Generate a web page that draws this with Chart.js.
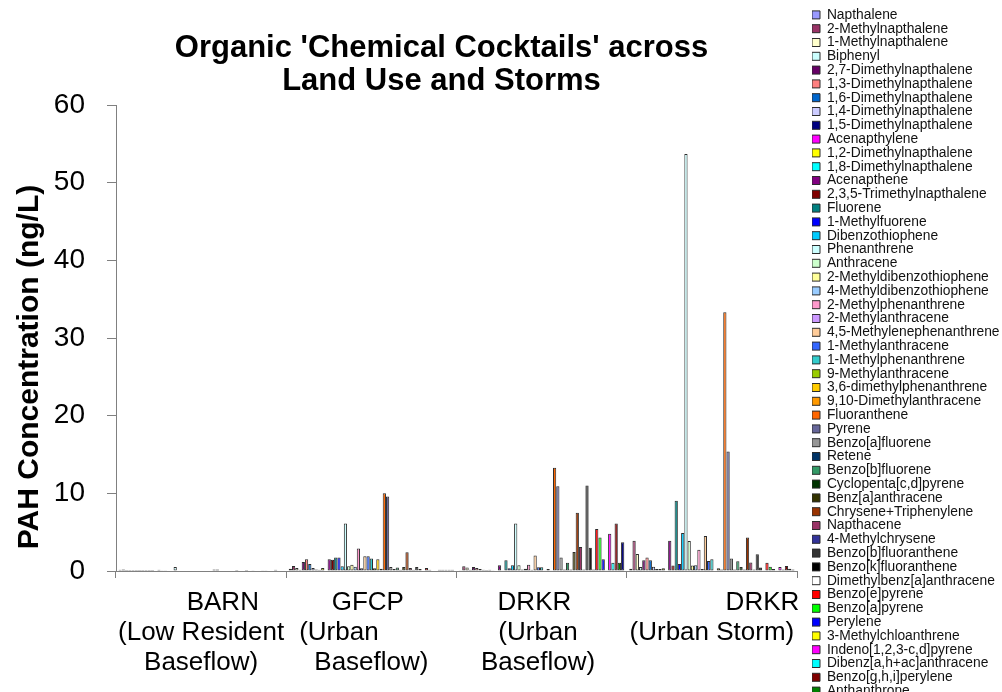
<!DOCTYPE html>
<html>
<head>
<meta charset="utf-8">
<script src="https://cdn.jsdelivr.net/npm/chart.js@4.4.1/dist/chart.umd.min.js"></script>
<style>
  html, body { margin: 0; padding: 0; background: #ffffff; overflow: hidden; }
  #wrap { width: 1002px; height: 692px; position: relative; }
</style>
</head>
<body>
<div id="wrap"><canvas id="pahChart" width="1002" height="692"></canvas></div>
<script>
// Sampling sites (multi-line category labels)
const sites = [
  ["      BARN", "(Low Resident", "Baseflow)"],
  ["GFCP ", "(Urban         ", "Baseflow)"],
  ["DRKR  ", "(Urban ", "Baseflow) "],
  ["              DRKR", "(Urban Storm)"]
];

// Compounds, in series order
const compounds = [
  "Napthalene", "2-Methylnapthalene", "1-Methylnapthalene", "Biphenyl",
  "2,7-Dimethylnapthalene", "1,3-Dimethylnapthalene", "1,6-Dimethylnapthalene",
  "1,4-Dimethylnapthalene", "1,5-Dimethylnapthalene", "Acenapthylene",
  "1,2-Dimethylnapthalene", "1,8-Dimethylnapthalene", "Acenapthene",
  "2,3,5-Trimethylnapthalene", "Fluorene", "1-Methylfuorene", "Dibenzothiophene",
  "Phenanthrene", "Anthracene", "2-Methyldibenzothiophene", "4-Methyldibenzothiophene",
  "2-Methylphenanthrene", "2-Methylanthracene", "4,5-Methylenephenanthrene",
  "1-Methylanthracene", "1-Methylphenanthrene", "9-Methylanthracene",
  "3,6-dimethylphenanthrene", "9,10-Dimethylanthracene", "Fluoranthene", "Pyrene",
  "Benzo[a]fluorene", "Retene", "Benzo[b]fluorene", "Cyclopenta[c,d]pyrene",
  "Benz[a]anthracene", "Chrysene+Triphenylene", "Napthacene", "4-Methylchrysene",
  "Benzo[b]fluoranthene", "Benzo[k]fluoranthene", "Dimethylbenz[a]anthracene",
  "Benzo[e]pyrene", "Benzo[a]pyrene", "Perylene", "3-Methylchloanthrene",
  "Indeno[1,2,3-c,d]pyrene", "Dibenz[a,h+ac]anthracene", "Benzo[g,h,i]perylene",
  "Anthanthrone", "Coronene"
];

// PAH concentrations (ng/L), one value per compound, per site
const barn = [
  0.15, 0.2, 0.12, 0.12, 0.12, 0.12, 0.12, 0.12, 0.12, 0.12,
  0.12, 0.05, 0.17, 0.1, 0.1, 0.08, 0.05, 0.5, 0.05, 0.05,
  0.05, 0.08, 0.05, 0.08, 0.08, 0.08, 0.05, 0.05, 0.05, 0.2,
  0.2, 0.05, 0.05, 0.05, 0.05, 0.08, 0.12, 0.05, 0.05, 0.12,
  0.05, 0.03, 0.05, 0.05, 0.03, 0.03, 0.05, 0.05, 0.15, 0.05,
  0.05
];
const gfcp = [
  0.3, 0.65, 0.4, 0.15, 1.15, 1.5, 0.9, 0.4, 0.2, 0.15,
  0.4, 0.05, 1.5, 1.45, 1.75, 1.75, 0.6, 6.1, 0.6, 0.8,
  0.55, 2.9, 0.35, 1.9, 1.9, 1.6, 0.35, 1.5, 0.3, 10.0,
  9.6, 0.5, 0.25, 0.45, 0.15, 0.5, 2.4, 0.4, 0.15, 0.5,
  0.25, 0.05, 0.4, 0.15, 0.05, 0.05, 0.15, 0.15, 0.15, 0.15,
  0.15
];
const drkrBaseflow = [
  0.1, 0.6, 0.45, 0.15, 0.5, 0.4, 0.25, 0.15, 0.12, 0.15,
  0.1, 0.05, 0.75, 0.1, 1.4, 0.35, 0.75, 6.1, 0.75, 0.2,
  0.3, 0.8, 0.17, 2.0, 0.47, 0.47, 0.1, 0.26, 0.1, 13.3,
  10.9, 1.75, 0.2, 1.05, 0.2, 2.45, 7.5, 3.1, 0.2, 11.0,
  3.0, 0.2, 5.4, 4.3, 1.5, 0.1, 4.8, 1.05, 6.1, 1.05,
  3.7
];
const drkrStorm = [
  0.3, 3.9, 2.2, 0.5, 1.4, 1.75, 1.4, 0.55, 0.25, 0.25,
  0.35, 0.05, 3.9, 0.7, 9.05, 0.9, 4.9, 53.7, 3.85, 0.7,
  0.75, 2.75, 0.25, 4.5, 1.3, 1.5, 0.05, 0.35, 0.2, 33.3,
  15.4, 1.6, 0.2, 1.25, 0.5, 0.2, 4.3, 1.1, 0.2, 2.15,
  0.45, 0.1, 1.05, 0.55, 0.25, 0.1, 0.5, 0.2, 0.65, 0.3,
  0.2
];

// Value axis ticks
const yTicks = [0, 10, 20, 30, 40, 50, 60];

// Series fill colours
const palette = [
  "#9999FF", "#993366", "#FFFFCC", "#CCFFFF", "#660066", "#FF8080", "#0066CC",
  "#CCCCFF", "#000080", "#FF00FF", "#FFFF00", "#00FFFF", "#800080", "#800000",
  "#008080", "#0000FF", "#00CCFF", "#CCFFFF", "#CCFFCC", "#FFFF99", "#99CCFF",
  "#FF99CC", "#CC99FF", "#FFCC99", "#3366FF", "#33CCCC", "#99CC00", "#FFCC00",
  "#FF9900", "#FF6600", "#666699", "#969696", "#003366", "#339966", "#003300",
  "#333300", "#993300", "#993366", "#333399", "#333333", "#000000", "#FFFFFF",
  "#FF0000", "#00FF00", "#0000FF", "#FFFF00", "#FF00FF", "#00FFFF", "#800000",
  "#008000", "#000080"
];

const FONT = '"Liberation Sans", Arial, Helvetica, sans-serif';
const LEGEND_ROWS = 50;

const datasets = compounds.map((name, i) => ({
  label: name,
  data: [barn[i], gfcp[i], drkrBaseflow[i], drkrStorm[i]],
  backgroundColor: palette[i],
  borderColor: "#2b2b2b",
  borderWidth: 1,
  borderSkipped: false
}));

// Places the title and the legend column after Chart.js has laid out the boxes
const boxNudge = {
  id: "boxNudge",
  afterLayout(chart, args, opts) {
    const t = chart.titleBlock;
    if (t) { t.left += opts.titleShift; t.right += opts.titleShift; }
    const lg = chart.legend;
    if (lg) {
      const dx = opts.legendLeft - lg.left;
      lg.left += dx; lg.right += dx;
      lg.top += opts.legendDrop; lg.bottom += opts.legendDrop;
    }
  }
};

// Rotated value-axis caption
const axisCaption = {
  id: "axisCaption",
  afterDraw(chart, args, opts) {
    const ctx = chart.ctx;
    ctx.save();
    ctx.translate(opts.x, opts.y);
    ctx.rotate(-Math.PI / 2);
    ctx.font = "bold " + opts.size + "px " + FONT;
    ctx.fillStyle = "#000";
    ctx.textAlign = "center";
    ctx.textBaseline = "middle";
    ctx.fillText(opts.text, 0, 0);
    ctx.restore();
  }
};

new Chart(document.getElementById("pahChart"), {
  type: "bar",
  data: { labels: sites, datasets },
  plugins: [boxNudge, axisCaption],
  options: {
    responsive: false,
    animation: false,
    devicePixelRatio: 1,
    layout: { padding: { left: 0, right: 7.5, top: 0, bottom: 0 } },
    datasets: { bar: { categoryPercentage: 0.971, barPercentage: 1.0 } },
    scales: {
      x: {
        offset: true,
        grid: { offset: true, drawOnChartArea: false, drawTicks: true, tickLength: 7, color: "#808080", lineWidth: 1 },
        border: { display: true, color: "#808080", width: 1 },
        ticks: {
          autoSkip: false, maxRotation: 0, minRotation: 0, padding: 10, color: "#000",
          font: { family: FONT, size: 26, lineHeight: 30 / 26 }
        },
        afterFit(scale) { scale.height = 121; }
      },
      y: {
        min: 0, max: 60,
        afterBuildTicks(scale) { scale.ticks = yTicks.map(v => ({ value: v })); },
        grid: { drawOnChartArea: false, drawTicks: true, tickLength: 9, color: "#808080", lineWidth: 1 },
        border: { display: true, color: "#808080", width: 1 },
        ticks: { padding: 22, color: "#000", font: { family: FONT, size: 28 } },
        afterFit(scale) { scale.width = 116; }
      }
    },
    plugins: {
      title: {
        display: true,
        fullSize: false,
        text: ["Organic 'Chemical Cocktails' across", "Land Use and Storms"],
        color: "#000",
        font: { family: FONT, size: 31, weight: "bold", lineHeight: 33 / 31 },
        padding: { top: 31.5, bottom: 7.5 }
      },
      legend: {
        display: true,
        position: "right",
        align: "start",
        labels: {
          boxWidth: 8, boxHeight: 8, padding: 0, color: "#111",
          font: { family: FONT, size: 13.8 },
          filter: item => item.datasetIndex < LEGEND_ROWS
        }
      },
      tooltip: { enabled: false },
      boxNudge: { titleShift: -15, legendLeft: 812, legendDrop: 8 },
      axisCaption: { text: "PAH Concentration (ng/L)", x: 30, y: 367, size: 30 }
    }
  }
});
</script>
</body>
</html>
